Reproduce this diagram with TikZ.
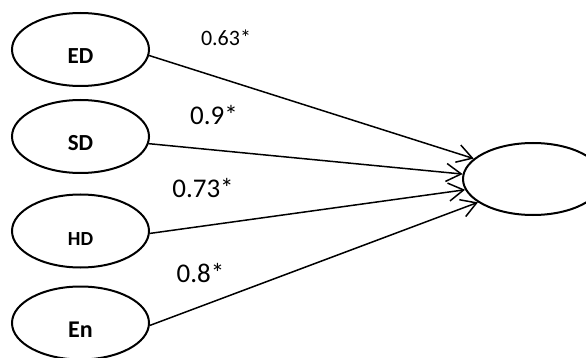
\documentclass[tikz,border=0pt]{standalone}
\usepackage{fontspec}
\setmainfont{Carlito}
\usepackage{tikz}
\usetikzlibrary{shapes.geometric,arrows.meta}

\begin{document}
\begin{tikzpicture}[x=1pt, y=-1pt,
    factor/.style={draw, ellipse, line width=2pt, minimum width=137pt, minimum height=73pt, inner sep=0pt, text height=28pt, text depth=0pt, font=\bfseries\fontsize{23}{26}\selectfont},
    coef/.style={anchor=base, inner sep=0pt, font=\fontsize{27}{30}\selectfont},
    arrow/.style={-{Straight Barb[length=15pt,width=18pt]}, line width=1.5pt}
  ]
    \useasboundingbox (0,0) rectangle (586,358);

    % Nodes
    \node[factor] (ed) at (80.5,49.5) {ED};
    \node[factor] (sd) at (80.5,136.5) {SD};
    \node[factor, font=\bfseries\fontsize{20}{24}\selectfont] (hd) at (80.5,231) {HD};
    \node[factor, font=\bfseries\fontsize{24}{28}\selectfont] (en) at (80.5,323) {En};
    \node[factor, minimum width=140pt, minimum height=72pt] (out) at (533,179) {};

    % Coefficients
    \node[coef, font=\fontsize{22}{26}\selectfont] (ced) at (226,46) {0.63*};
    \node[coef] (csd) at (214,125) {0.9*};
    \node[coef] (chd) at (203,197) {0.73*};
    \node[coef] (cen) at (200.5,282) {0.8*};

    % Arrows
    \draw[arrow] (ed.-5) -- (out.161.6);
    \draw[arrow] (sd.-6) -- (out.176);
    \draw[arrow] (hd.-2) -- (out.189);
    \draw[arrow] (en.-2) -- (out.203.4);
\end{tikzpicture}
\end{document}
